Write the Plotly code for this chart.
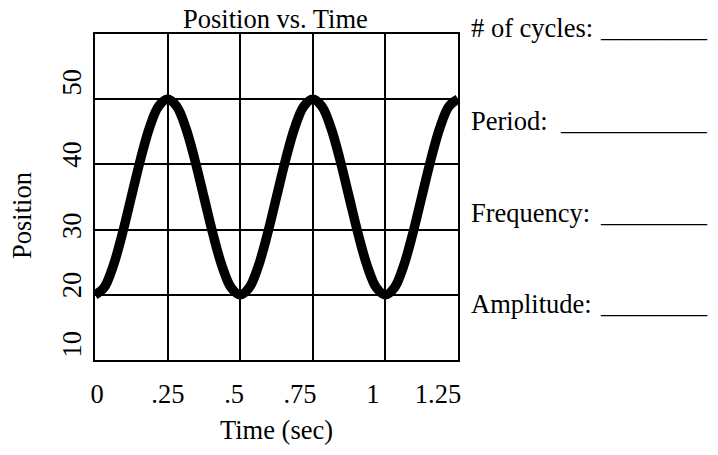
import plotly.graph_objects as go

# ---- data ----
time_sec = [0, 0.03125, 0.0625, 0.09375, 0.125, 0.15625, 0.1875, 0.21875, 0.25,
            0.28125, 0.3125, 0.34375, 0.375, 0.40625, 0.4375, 0.46875, 0.5,
            0.53125, 0.5625, 0.59375, 0.625, 0.65625, 0.6875, 0.71875, 0.75,
            0.78125, 0.8125, 0.84375, 0.875, 0.90625, 0.9375, 0.96875, 1.0,
            1.03125, 1.0625, 1.09375, 1.125, 1.15625, 1.1875, 1.21875, 1.25]
position = [20, 21.1, 24.4, 29.3, 35, 40.7, 45.6, 48.9, 50,
            48.9, 45.6, 40.7, 35, 29.3, 24.4, 21.1, 20,
            21.1, 24.4, 29.3, 35, 40.7, 45.6, 48.9, 50,
            48.9, 45.6, 40.7, 35, 29.3, 24.4, 21.1, 20,
            21.1, 24.4, 29.3, 35, 40.7, 45.6, 48.9, 50]

x_grid = [0.25, 0.5, 0.75, 1.0]
x_tick_text = ["0", ".25", ".5", ".75", "1", "1.25"]
y_grid = [20, 30, 40, 50]
y_tick_text = ["10", "20", "30", "40", "50"]

worksheet_labels = ["# of cycles:", "Period:", "Frequency:", "Amplitude:"]
blank_lines = ["________", "___________", "________", "________"]

# ---- layout constants (pixel geometry of the reference page) ----
W, H = 718, 455
OFF = 8                      # default page body margin of the html file
L, R, T, B = 95, 458, 34, 360
# label positions in the reference are slightly offset from the grid
x_tick_pos = [0.007, 0.251, 0.479, 0.706, 0.957, 1.181]
y_tick_pos = [11.8, 20.9, 30, 40.9, 52.0]

FONT = "Times New Roman, Liberation Serif, serif"
FS = 26.5


def px_x(px):
    return (px - L) / (R - L)


def px_y(py):
    return (B - py) / (B - T)


fig = go.Figure()
fig.add_trace(go.Scatter(
    x=time_sec, y=position, mode="lines",
    line=dict(color="black", width=9.5, shape="spline"),
    cliponaxis=False, showlegend=False, hoverinfo="skip",
))

label_y_px = [28, 121, 213, 304]
annotations = []
for lab, blank, py in zip(worksheet_labels, blank_lines, label_y_px):
    annotations.append(dict(
        xref="paper", yref="paper", x=px_x(469), y=px_y(py),
        xanchor="left", yanchor="middle", text=lab, showarrow=False,
        font=dict(family=FONT, size=FS, color="black")))
    annotations.append(dict(
        xref="paper", yref="paper", x=px_x(710), y=px_y(py),
        xanchor="right", yanchor="middle", text=blank, showarrow=False,
        font=dict(family=FONT, size=FS, color="black")))

# y-axis title placed where the reference has it
annotations.append(dict(
    xref="paper", yref="paper", x=px_x(22), y=px_y(216),
    xanchor="center", yanchor="middle", textangle=-90, text="Position",
    showarrow=False, font=dict(family=FONT, size=FS, color="black")))

# chart title
annotations.append(dict(
    xref="paper", yref="paper", x=px_x(275), y=px_y(19),
    xanchor="center", yanchor="middle", text="Position vs. Time",
    showarrow=False, font=dict(family=FONT, size=FS, color="black")))

fig.update_layout(
    width=W - OFF, height=H - OFF,
    margin=dict(l=L - OFF, r=W - R, t=T - OFF, b=H - B, pad=0),
    paper_bgcolor="white", plot_bgcolor="white",
    font=dict(family=FONT, size=FS, color="black"),
    annotations=annotations,
    showlegend=False,
)

fig.update_xaxes(
    range=[0, 1.25], tickmode="array", tickvals=x_tick_pos, ticktext=x_tick_text,
    showgrid=False, zeroline=False, ticks="", ticklabelstandoff=9,
    showline=True, mirror=True, linecolor="black", linewidth=1.5,
    minor=dict(tickmode="array", tickvals=x_grid, showgrid=True,
               gridcolor="black", gridwidth=1.5, ticks=""),
    title=dict(text="Time (sec)", standoff=13,
               font=dict(family=FONT, size=FS, color="black")),
    tickfont=dict(family=FONT, size=FS, color="black"),
)
fig.update_yaxes(
    range=[10, 60], tickmode="array", tickvals=y_tick_pos, ticktext=y_tick_text,
    tickangle=-90, showgrid=False, zeroline=False, ticks="", ticklabelstandoff=2,
    showline=True, mirror=True, linecolor="black", linewidth=1.5,
    minor=dict(tickmode="array", tickvals=y_grid, showgrid=True,
               gridcolor="black", gridwidth=1.5, ticks=""),
    tickfont=dict(family=FONT, size=FS, color="black"),
)

fig.write_html("out.html")
